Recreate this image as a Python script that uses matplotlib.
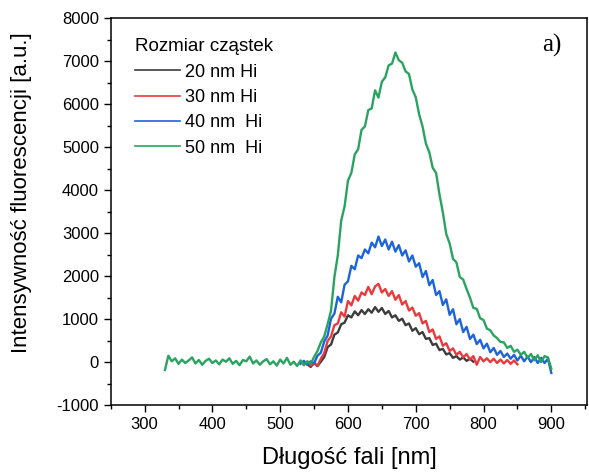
import matplotlib.pyplot as plt
import numpy as np

plt.rcParams['font.family'] = ['Liberation Sans', 'DejaVu Sans']
plt.rcParams['axes.unicode_minus'] = False

# emission spectra, 5 nm step
wl_20 = np.arange(540, 786, 5)
int_20 = [-50, -110, -20, -90, 10, 120, 350, 410, 640, 690, 880, 920, 1090, 1040,
          1180, 1090, 1210, 1120, 1230, 1150, 1280, 1170, 1260, 1120, 1190, 1040,
          1090, 960, 1010, 860, 900, 730, 790, 650, 700, 540, 560, 400, 430, 280,
          310, 180, 210, 100, 140, 60, 110, 30, 80, 10]

wl_30 = np.arange(535, 851, 5)
int_30 = [-60, 10, -80, -20, -90, 80, 210, 490, 600, 860, 900, 1160, 1060, 1420,
          1320, 1540, 1430, 1620, 1560, 1750, 1580, 1760, 1820, 1620, 1700, 1540,
          1650, 1450, 1560, 1340, 1420, 1200, 1270, 1080, 1140, 900, 960, 700, 760,
          540, 600, 380, 440, 260, 320, 170, 240, 110, 190, 60, 140, -60, 120, 20,
          90, 0, 80, -20, 60, -30, 50, -40, 40, -50]

wl_40 = np.arange(530, 901, 5)
int_40 = [-40, 30, -60, 20, -30, 150, 220, 480, 620, 1010, 1130, 1520, 1390, 1800,
          1880, 2240, 2160, 2480, 2420, 2620, 2530, 2780, 2670, 2920, 2700, 2850,
          2620, 2800, 2570, 2720, 2480, 2600, 2340, 2480, 2220, 2300, 1980, 2120,
          1790, 1910, 1560, 1650, 1330, 1460, 1100, 1230, 880, 1000, 700, 820, 540,
          640, 420, 520, 320, 430, 230, 330, 170, 260, 120, 200, 80, 170, 40, 150,
          20, 130, 0, 120, -20, 100, -20, 80, -250]

wl_50 = np.arange(330, 901, 5)
int_50 = [-180, 150, 20, 90, -40, 60, -20, 40, 110, -30, 50, -60, 30, 80, -20, 40,
          -50, 60, 10, 90, -40, 30, -70, 50, 20, 130, -30, 40, -60, 20, 70, -50, 20,
          -80, 60, -30, 100, -60, 10, -90, 40, -70, 20, -40, 120, 260, 460, 600, 880,
          1200, 1980, 2480, 3290, 3620, 4220, 4400, 4830, 4950, 5400, 5480, 5860,
          5900, 6320, 6150, 6520, 6620, 6900, 6940, 7200, 7020, 6960, 6760, 6700,
          6340, 6160, 5760, 5480, 5080, 4880, 4520, 4400, 3900, 3480, 2980, 2760,
          2400, 2320, 1980, 1920, 1700, 1500, 1260, 1240, 1020, 980, 780, 740, 620,
          560, 470, 460, 330, 380, 240, 290, 170, 240, 100, 190, 40, 160, 0, 140,
          110, -150]

series = [
    (wl_20, int_20, '#3c3c3c', '20 nm Hi'),
    (wl_30, int_30, '#e93a3e', '30 nm Hi'),
    (wl_40, int_40, '#1e64d9', '40 nm  Hi'),
    (wl_50, int_50, '#2ba360', '50 nm  Hi'),
]

fig = plt.figure(figsize=(5.89, 4.75), dpi=100)
ax = fig.add_axes([0.188, 0.147, 0.809, 0.815])

for x, y, c, lab in series:
    ax.plot(x, y, color=c, lw=1.7, label=lab)

ax.set_xlim(250, 953)
ax.set_ylim(-1000, 8000)
ax.set_xticks(np.arange(300, 901, 100))
ax.set_xticks(np.arange(250, 951, 50), minor=True)
ax.set_yticks(np.arange(-1000, 8001, 1000))
ax.set_yticks(np.arange(-1000, 8001, 500), minor=True)
ax.tick_params(which='both', direction='out', top=False, right=False, labelsize=12)
ax.tick_params(which='major', length=5, width=1)
ax.tick_params(which='minor', length=3, width=1)
for s in ax.spines.values():
    s.set_linewidth(1.1)

ax.set_xlabel('Długość fali [nm]', fontsize=17, labelpad=11)
ax.set_ylabel('Intensywność fluorescencji [a.u.]', fontsize=16)
ax.yaxis.set_label_coords(-0.166, 0.55)

leg = ax.legend(loc='upper left', bbox_to_anchor=(0.02, 0.985), frameon=False,
                title='Rozmiar cząstek', fontsize=13, title_fontsize=13.5,
                handlelength=2.5, handletextpad=0.3, labelspacing=0.46,
                alignment='left', borderpad=0.3)
for line in leg.get_lines():
    line.set_linewidth(1.2)

ax.text(0.925, 0.93, 'a)', transform=ax.transAxes, fontsize=18,
        family='Liberation Serif', ha='center', va='center')

fig.savefig('out.png', dpi=100)
